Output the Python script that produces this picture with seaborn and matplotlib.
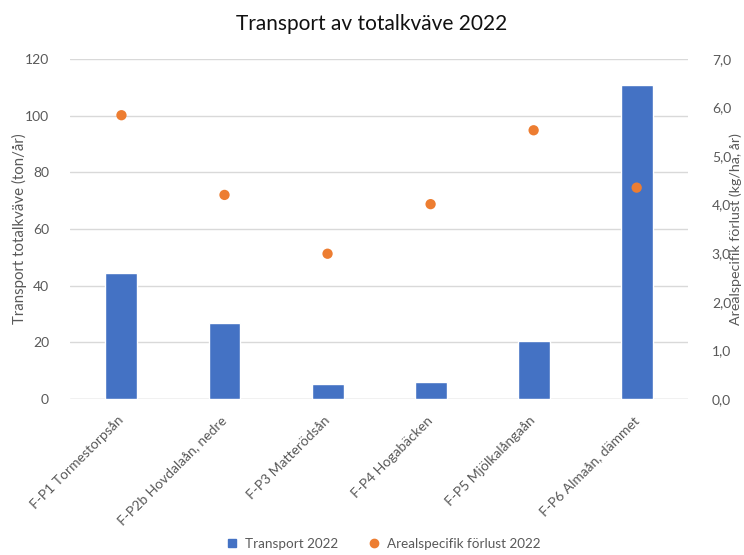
import matplotlib
matplotlib.use("Agg")
import matplotlib.pyplot as plt
import seaborn as sns
import pandas as pd
from matplotlib.ticker import FuncFormatter, MultipleLocator

stations = [
    "F-P1 Tormestorpsån",
    "F-P2b Hovdalaån, nedre",
    "F-P3 Matterödsån",
    "F-P4 Hogabäcken",
    "F-P5 Mjölkalångaån",
    "F-P6 Almaån, dämmet",
]
transport_2022 = [44.4, 26.7, 5.3, 6.0, 20.6, 110.7]
areal_loss_2022 = [5.84, 4.20, 2.99, 4.01, 5.53, 4.35]

df = pd.DataFrame({
    "station": stations,
    "transport": transport_2022,
    "areal": areal_loss_2022,
})

sns.set_theme(style="white")
plt.rcParams["font.family"] = ["Lato", "DejaVu Sans"]

grey = "#595959"
bar_color = "#4472C4"
dot_color = "#ED7D31"

fig = plt.figure(figsize=(7.44, 5.55), dpi=100)
ax = fig.add_axes([0.094, 0.281, 0.831, 0.613])

sns.barplot(data=df, x="station", y="transport", color=bar_color,
            width=0.31, saturation=1, ax=ax, zorder=2)
ax.set_ylim(0, 120)
ax.yaxis.set_major_locator(MultipleLocator(20))
ax.set_xlim(-0.5, len(stations) - 0.5)
ax.grid(axis="y", color="#D9D9D9", linewidth=1, zorder=0)
ax.set_axisbelow(True)
for s in ax.spines.values():
    s.set_visible(False)
ax.axhline(0, color="#D9D9D9", linewidth=1, zorder=1)

ax2 = ax.twinx()
sns.scatterplot(data=df, x="station", y="areal", color=dot_color, s=55,
                edgecolor="none", ax=ax2, zorder=3)
ax2.set_ylim(0, 7)
ax2.yaxis.set_major_locator(MultipleLocator(1))
ax2.yaxis.set_major_formatter(FuncFormatter(lambda v, p: f"{v:.1f}".replace(".", ",")))
for s in ax2.spines.values():
    s.set_visible(False)
ax2.grid(False)

ax.set_xlabel("")
ax.set_ylabel("Transport totalkväve (ton/år)", color=grey, fontsize=10.8)
ax2.set_ylabel("Arealspecifik förlust (kg/ha, år)", color=grey, fontsize=10.3)
ax.yaxis.set_label_coords(-0.070, 0.5)
ax2.yaxis.set_label_coords(1.0675, 0.5)

ax.tick_params(axis="y", colors=grey, labelsize=10, length=0, pad=15)
ax2.tick_params(axis="y", colors=grey, labelsize=10, length=0, pad=17)
ax.tick_params(axis="x", colors=grey, labelsize=10, length=0, pad=14)
for lbl in ax.get_xticklabels():
    lbl.set_rotation(45)
    lbl.set_ha("right")
    lbl.set_va("center")
    lbl.set_rotation_mode("anchor")

fig.suptitle("Transport av totalkväve 2022", y=0.975, fontsize=15, color="#111111")

handles = [
    plt.Line2D([], [], marker="s", linestyle="none", color=bar_color, markersize=6),
    plt.Line2D([], [], marker="o", linestyle="none", color=dot_color, markersize=6),
]
fig.legend(handles, ["Transport 2022", "Arealspecifik förlust 2022"],
           loc="lower center", bbox_to_anchor=(0.51, -0.012), ncol=2, frameon=False,
           fontsize=9.7, labelcolor=grey, handletextpad=0.0, columnspacing=1.6)

fig.savefig("out.png", dpi=100)
